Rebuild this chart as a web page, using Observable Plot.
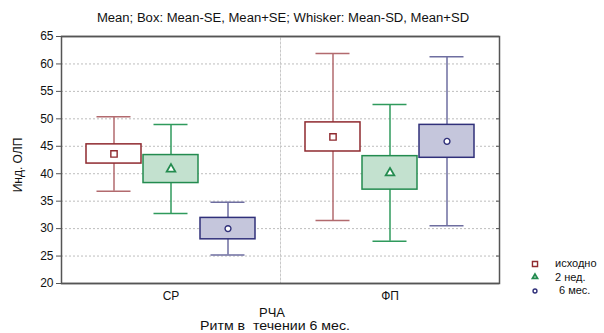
<!DOCTYPE html>
<html>
<head>
<meta charset="utf-8">
<script src="https://cdn.jsdelivr.net/npm/d3@7"></script>
<script src="https://cdn.jsdelivr.net/npm/@observablehq/plot@0.6"></script>
<style>
  html, body { margin: 0; padding: 0; background: #fff; }
  #wrap { position: relative; width: 604px; height: 333px; font-family: "Liberation Sans", Arial, sans-serif; color: #111; }
  .t { position: absolute; white-space: pre; font-size: 11px; }
</style>
</head>
<body>
<div id="wrap"></div>
<script>
const groups = ["СР", "ФП"];
const series = ["исходно", "2 нед.", "6 мес."];
// order: СР(исходно, 2 нед., 6 мес.), ФП(исходно, 2 нед., 6 мес.)
const means = [43.6, 40.85, 30.0, 46.7, 40.15, 45.9];
const ses   = [1.75, 2.55, 1.95, 2.65, 3.05, 3.0];
const sds   = [6.8, 8.1, 4.8, 15.2, 12.45, 15.4];
const yTicks = [20, 25, 30, 35, 40, 45, 50, 55, 60, 65];

const boxStroke = ["#8f2a2f", "#238b4f", "#30307a"];
const boxFill = ["#ffffff", "#c3e1cf", "#c5c6dc"];
const whiskerStroke = ["#b26a6e", "#2f9a5c", "#6e6ea0"];
const symbols = ["square", "triangle", "circle"];

const rows = [];
groups.forEach((g, gi) => series.forEach((s, si) => {
  const k = gi * 3 + si;
  rows.push({group: g, series: s, si, mean: means[k],
    seLo: means[k] - ses[k], seHi: means[k] + ses[k],
    sdLo: means[k] - sds[k], sdHi: means[k] + sds[k]});
}));

const marks = [
  Plot.ruleY(yTicks.slice(1, -1), {stroke: "#bdbdbd", strokeDasharray: "2,2", strokeWidth: 1}),
  Plot.frame({stroke: "#c8c8c8", strokeDasharray: "2,2"}),
  Plot.ruleX(rows, {x: "series", fx: "group", y1: "sdLo", y2: "sdHi", stroke: d => whiskerStroke[d.si], strokeWidth: 1.5}),
  Plot.tickY(rows, {x: "series", fx: "group", y: "sdLo", stroke: d => whiskerStroke[d.si], strokeWidth: 1.5, insetLeft: 10.5, insetRight: 10.5}),
  Plot.tickY(rows, {x: "series", fx: "group", y: "sdHi", stroke: d => whiskerStroke[d.si], strokeWidth: 1.5, insetLeft: 10.5, insetRight: 10.5}),
  Plot.barY(rows, {x: "series", fx: "group", y1: "seLo", y2: "seHi", fill: d => boxFill[d.si], stroke: d => boxStroke[d.si], strokeWidth: 1.5}),
  Plot.dot(rows, {x: "series", fx: "group", y: "mean", symbol: d => symbols[d.si], r: d => d.si === 0 ? 3.1 : d.si === 1 ? 2.5 : 2.1, stroke: d => boxStroke[d.si], fill: "white", strokeWidth: d => d.si === 1 ? 1.8 : 1.4}),
  Plot.ruleY([20, 65], {stroke: "#555", strokeWidth: 1.5}),
  Plot.frame({facet: "super", stroke: "#555", strokeWidth: 1.5})
];
if (typeof Plot.axisY === "function") {
  marks.push(
    Plot.axisY({anchor: "left", ticks: yTicks, tickSize: 5, tickPadding: 3, label: null, stroke: "#555"}),
    Plot.axisY({anchor: "right", ticks: yTicks, tickSize: -4, tickFormat: () => "", label: null, stroke: "#555"}),
    Plot.axisFx({anchor: "bottom", tickSize: 0, tickPadding: 8, label: null})
  );
}

const chart = Plot.plot({
  width: 604, height: 333,
  marginTop: 36, marginBottom: 50, marginLeft: 61, marginRight: 105,
  style: {fontFamily: "Liberation Sans, Arial, sans-serif", fontSize: "12px", color: "#111", background: "transparent"},
  fx: {domain: groups, padding: 0, label: null, tickSize: 0, tickPadding: 8},
  x: {domain: series, paddingInner: 0.034, paddingOuter: 0.405, axis: null},
  y: {domain: [20, 65], ticks: yTicks, label: null, tickSize: 5, tickPadding: 3},
  marks
});

const wrap = document.getElementById("wrap");
wrap.appendChild(chart);

function addText(txt, css) {
  const d = document.createElement("div");
  d.className = "t";
  d.textContent = txt;
  Object.assign(d.style, css);
  wrap.appendChild(d);
  return d;
}
addText("Mean; Box: Mean-SE, Mean+SE; Whisker: Mean-SD, Mean+SD", {left: "283px", top: "11px", fontSize: "12px", transform: "translateX(-50%) scaleX(1.09)"});
addText("Инд. ОЛП", {left: "18px", top: "165px", fontSize: "12px", transform: "translate(-50%,-50%) rotate(-90deg)"});
addText("РЧА", {left: "272px", top: "306px", fontSize: "12px", transform: "translateX(-50%) scaleX(1.08)"});
addText("Ритм в  течении 6 мес.", {left: "275px", top: "319px", fontSize: "12px", transform: "translateX(-50%) scaleX(1.18)"});

// legend
const leg = document.createElement("div");
leg.style.cssText = "position:absolute;left:529px;top:257px;font-size:11px;line-height:13px;";
series.forEach((s, i) => {
  const row = document.createElement("div");
  row.style.cssText = "display:flex;align-items:center;height:13.5px;";
  const sym = d3.create("svg").attr("width", 12).attr("height", 12);
  sym.append("path").attr("transform", "translate(6,6)")
    .attr("d", d3.symbol(i === 0 ? d3.symbolSquare : i === 1 ? d3.symbolTriangle : d3.symbolCircle, i === 0 ? 26 : i === 1 ? 11 : 12)())
    .attr("fill", "white").attr("stroke", boxStroke[i]).attr("stroke-width", i === 1 ? 1.8 : 1.4);
  row.appendChild(sym.node());
  const lab = document.createElement("span");
  lab.textContent = s;
  lab.style.cssText = "margin-left:" + (i === 2 ? "18px" : "14px") + ";white-space:pre;";
  row.appendChild(lab);
  leg.appendChild(row);
});
wrap.appendChild(leg);
</script>
</body>
</html>
